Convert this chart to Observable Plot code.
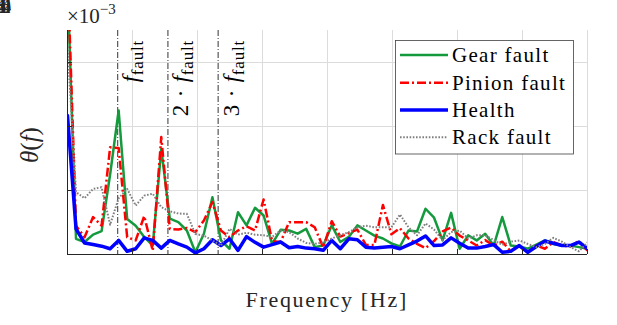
<!DOCTYPE html>
<html><head><meta charset="utf-8">
<script src="https://cdn.jsdelivr.net/npm/d3@7"></script>
<script src="https://cdn.jsdelivr.net/npm/@observablehq/plot@0.6"></script>
<style>
body{margin:0;background:#fff}
#chart{position:relative;width:617px;height:325px}
#chart text, #chart tspan { font-family: 'Liberation Serif', serif !important; }
</style>
</head><body><div id="chart"></div>
<script>
// Frequency grid [Hz]
const freq = [0,0.262,0.525,0.787,1.049,1.311,1.574,1.836,2.098,2.361,2.623,2.885,3.148,3.410,3.672,3.934,4.197,4.459,4.721,4.984,5.246,5.508,5.770,6.033,6.295,6.557,6.820,7.082,7.344,7.607,7.869,8.131,8.393,8.656,8.918,9.180,9.443,9.705,9.967,10.230,10.492,10.754,11.016,11.279,11.541,11.803,12.066,12.328,12.590,12.852,13.115,13.377,13.639,13.902,14.164,14.426,14.689,14.951,15.213,15.475,15.738,16.000];
// theta(f), units of 1e-3
const gearFault = [8.5,0.49,0.39,0.62,0.73,2.5,4.5,1.11,0.9,0.55,0.28,3.3,1.12,1.01,0.75,0.07,0.65,1.79,0.44,0.18,1.32,0.91,1.46,1.22,0.33,0.77,0.75,0.65,0.8,0.23,0.28,0.91,0.39,0.55,0.91,0.75,0.59,0.5,0.35,0.25,0.75,0.72,1.43,1.15,0.44,1.3,0.18,0.6,0.44,0.65,0.28,1.17,0.28,0.25,0.18,0.31,0.44,0.33,0.28,0.28,0.23,0.18];
const pinionFault = [9,0.9,0.54,1.17,0.9,3.35,3.33,0.54,0.44,1.2,0.12,3.67,0.8,0.78,0.83,0.7,1.06,1.64,0.75,0.54,0.75,0.88,0.75,1.72,0.42,0.39,1.01,1.01,1.01,0.85,0.22,1.04,0.56,0.67,0.78,0.3,0.3,1.55,0.63,0.82,0.5,0.33,0.2,0.42,0.72,0.84,0.59,0.44,0.28,0.45,0.28,0.4,0.1,0.28,0.07,0.28,0.18,0.39,0.28,0.25,0.42,0.12];
const health = [4.34,0.8,0.36,0.31,0.26,0.18,0.44,0.1,0.18,0.52,0.44,0.2,0.44,0.33,0.23,0.05,0.18,0.46,0.28,0.49,0.13,0.56,0.38,0.23,0.31,0.39,0.21,0.25,0.2,0.18,0.13,0.44,0.18,0.49,0.46,0.23,0.2,0.23,0.25,0.18,0.3,0.42,0.58,0.28,0.3,0.52,0.35,0.2,0.2,0.25,0.31,0.07,0.1,0.28,0.07,0.25,0.42,0.35,0.28,0.28,0.39,0.18];
const rackFault = [6.5,1.95,1.76,2.05,2.1,0.93,1.76,2.05,1.53,1.84,1.9,1.48,1.35,1.28,1.27,0.64,0.59,0.44,0.28,0.8,0.62,0.68,0.62,0.6,0.55,0.75,0.7,0.5,0.36,0.33,0.38,0.5,0.6,0.7,0.85,0.9,0.85,0.85,0.85,1.25,0.85,0.6,0.97,0.78,0.45,0.7,0.75,0.5,0.6,0.6,0.45,0.3,0.4,0.44,0.33,0.23,0.33,0.52,0.4,0.23,0.1,0.38];

const seriesNames = ["Gear fault","Pinion fault","Health","Rack fault"];
const xTicks = [0,2,4,6,8,10,12,14,16];
const yTicks = [0,2,4,6];
const faultX = [1.545,3.09,4.635];
const faultPrefix = ["","2 · ","3 · "];
const faultSymbol = "f";
const faultSub = "fault";
const xLabel = "Frequency [Hz]";
const expLabel = ["×10","−3"];

const styles = [
  {stroke:"#149a3c", strokeWidth:2.5, dash:null},
  {stroke:"#ff0000", strokeWidth:2.5, dash:"9,3,2,3"},
  {stroke:"#0000ff", strokeWidth:3.5, dash:null},
  {stroke:"#808080", strokeWidth:2, dash:"1.6,1.6"}
];
const seriesValues = [gearFault, pinionFault, health, rackFault];
const seriesRows = seriesValues.map(vals => freq.map((f,i)=>({f, v: vals[i]})));

const FONT = "'Liberation Serif'";
const ink = "#262626";

const plot = Plot.plot({
  width: 617, height: 325,
  marginLeft: 67, marginRight: 30, marginTop: 30, marginBottom: 71,
  style: {fontSize: "21px", color: ink, background: "white", overflow: "visible"},
  x: {domain: [0,16], label: null},
  y: {domain: [0,7], label: null},
  marks: [
    Plot.gridX(xTicks, {stroke: "#dcdcdc", strokeOpacity: 1, strokeWidth: 1}),
    Plot.gridY(yTicks, {stroke: "#dcdcdc", strokeOpacity: 1, strokeWidth: 1}),
    Plot.ruleX(faultX, {stroke: "#000", strokeWidth: 0.8, strokeDasharray: "6,2,1,2"}),
    ...seriesRows.map((rows, k) => Plot.line(rows, {
      x: "f", y: "v", stroke: styles[k].stroke, strokeWidth: styles[k].strokeWidth,
      strokeDasharray: styles[k].dash, strokeLinejoin: "round", strokeLinecap: styles[k].dash ? "butt" : "round", clip: true
    })),
    Plot.ruleX([0], {stroke: ink, strokeWidth: 1}),
    Plot.ruleY([0], {stroke: ink, strokeWidth: 1}),
    Plot.tickX(xTicks, {x: d => d, insetTop: 219, stroke: ink}),
    Plot.tickY(yTicks, {y: d => d, insetRight: 515, stroke: ink}),
    Plot.axisX(xTicks, {tickSize: 0, tickPadding: 12, fontSize: 21, tickFormat: d => String(d), label: null, fill: ink}),
    Plot.axisY(yTicks, {tickSize: 0, tickPadding: 9, fontSize: 21, tickFormat: d => String(d), label: null, fill: ink})
  ]
});

const svg = d3.select(plot);
const sx = plot.scale("x");

// fault labels (positioned through the x scale)
faultX.forEach((fx, i) => {
  const t = svg.append("text")
    .attr("transform", `translate(${sx.apply(fx) + 21},40) rotate(-90)`)
    .attr("text-anchor", "end").attr("font-size", 23).attr("letter-spacing", 0.8).attr("fill", "#000");
  if (faultPrefix[i]) t.append("tspan").text(faultPrefix[i]);
  t.append("tspan").attr("font-style", "italic").text(faultSymbol);
  t.append("tspan").attr("font-size", 17).attr("dy", 5).text(faultSub);
});

svg.append("text").attr("x", 326.7).attr("y", 307).attr("text-anchor", "middle")
  .attr("font-size", 22).attr("letter-spacing", 1.7).attr("fill", ink).text(xLabel);

const yl = svg.append("text").attr("transform", "translate(38,145) rotate(-90)").attr("text-anchor", "middle")
  .attr("font-size", 25).attr("fill", ink);
yl.append("tspan").attr("font-style", "italic").text("θ");
yl.append("tspan").text("(");
yl.append("tspan").attr("font-style", "italic").text("f");
yl.append("tspan").text(")");

const ex = svg.append("text").attr("x", 67).attr("y", 23).attr("text-anchor", "start")
  .attr("font-size", 21).attr("fill", ink);
ex.append("tspan").text(expLabel[0]);
ex.append("tspan").attr("font-size", 15).attr("dy", -9).text(expLabel[1]);

const lg = svg.append("g");
lg.append("rect").attr("x", 395.5).attr("y", 40.5).attr("width", 178).attr("height", 113.5)
  .attr("fill", "white").attr("stroke", "#404040").attr("stroke-width", 0.8);
const rowsY = [55, 82.7, 110, 137.3];
seriesNames.forEach((name, k) => {
  lg.append("line").attr("x1", 400).attr("x2", 448).attr("y1", rowsY[k]).attr("y2", rowsY[k])
    .attr("stroke", styles[k].stroke).attr("stroke-width", styles[k].strokeWidth)
    .attr("stroke-dasharray", styles[k].dash);
  lg.append("text").attr("x", 452).attr("y", rowsY[k] + 7).attr("text-anchor", "start")
    .attr("font-size", 21).attr("letter-spacing", 1.3).attr("fill", "#000").text(name);
});

// move horizontal text positions into a transform (the form the rotated labels use)
svg.selectAll("text").each(function() {
  const tr = this.getAttribute("transform") || "";
  if (tr.includes("rotate(-90)")) return;
  const x = +(this.getAttribute("x") || 0), y = +(this.getAttribute("y") || 0);
  this.removeAttribute("x"); this.removeAttribute("y");
  this.setAttribute("transform", `${tr} translate(${x},${y}) rotate(0.01)`.trim());
});
svg.attr("font-family", FONT);
svg.selectAll("text, tspan").each(function() {
  this.setAttribute("font-family", FONT);
  this.style.setProperty("font-family", "'Liberation Serif', serif", "important");
});

document.getElementById("chart").appendChild(plot);
</script>
</body></html>
